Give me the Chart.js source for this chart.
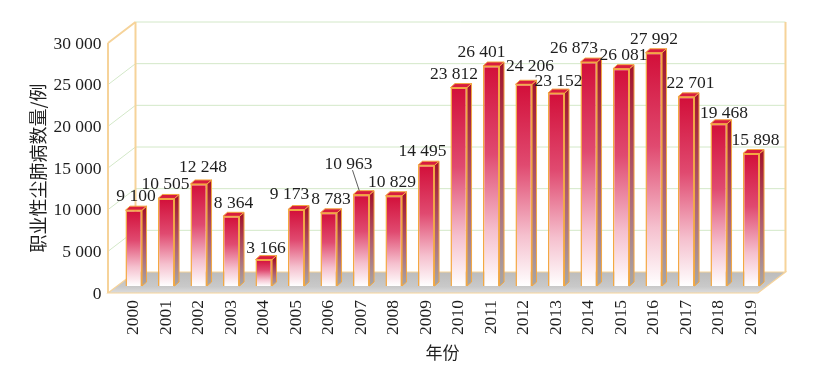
<!DOCTYPE html>
<html>
<head>
<meta charset="utf-8">
<script src="https://cdn.jsdelivr.net/npm/chart.js@4.4.1/dist/chart.umd.min.js"></script>
<style>
  html, body { margin: 0; padding: 0; background: #fff; }
  #wrap { width: 822px; height: 366px; }
</style>
</head>
<body>
<div id="wrap"><canvas id="pneumoChart" width="822" height="366"></canvas></div>
<script>
const YEARS = [
  "2000", "2001", "2002", "2003", "2004", "2005", "2006", "2007", "2008", "2009",
  "2010", "2011", "2012", "2013", "2014", "2015", "2016", "2017", "2018", "2019",
];

const CASES = [
  9100, 10505, 12248, 8364, 3166, 9173, 8783, 10963, 10829, 14495,
  23812, 26401, 24206, 23152, 26873, 26081, 27992, 22701, 19468, 15898,
];

const Y_TICKS = [0, 5000, 10000, 15000, 20000, 25000, 30000];

const Y_TITLE = "职业性尘肺病数量/例";
const X_TITLE = "年份";

// small nudges for value labels that sit off-centre in the original
const LABEL_DX = [0, -3, 2, 0, 0, -9, 0, -15, -4, -6, -7, -12, 4, 0, -17, 0, -2, 2, 3, 2];
const LABEL_DY = [0, 0, -3, 1, 2, -2, 0, -17, 0, 0, 0, 0, -4, 2, 0, 0, 0, 0, 3, 0];

// 3D look: the bars sit a third of the way into the box
const FRONT_DX = -9.5, FRONT_DY = 7;
const BACK_DX = 18, BACK_DY = -14;
const BAR_DX = 4.5, BAR_DY = -4;

const SERIF = "'Liberation Serif', 'DejaVu Serif', serif";
const CJK = "'Noto Sans CJK SC', sans-serif";
const TEXT = "#1e1e1e";
const ORANGE = "#f3a843";
const FRAME = "#f6d39a";
const GRID = "#d3e8c8";

function fmt(v) {
  return String(v).replace(/\B(?=(\d{3})+(?!\d))/g, " ");
}

function frontFill(context) {
  const chart = context.chart;
  const { ctx, chartArea, scales } = chart;
  if (!chartArea || context.type !== "data") return "#d3123a";
  const top = scales.y.getPixelForValue(context.raw);
  const base = scales.y.getPixelForValue(0);
  const g = ctx.createLinearGradient(0, top, 0, base);
  g.addColorStop(0, "#d20f39");
  g.addColorStop(0.4, "#e04a70");
  g.addColorStop(0.75, "#f5c0ce");
  g.addColorStop(1, "#ffffff");
  return g;
}

const box3dPlugin = {
  id: "box3d",
  beforeDatasetsDraw(chart) {
    const { ctx, chartArea: a, scales: { y } } = chart;
    const fl = a.left + FRONT_DX, fr = a.right + FRONT_DX;
    const bl = a.left + BACK_DX, br = a.right + BACK_DX;
    const fy = (v) => y.getPixelForValue(v) + FRONT_DY;
    const by = (v) => y.getPixelForValue(v) + BACK_DY;
    const top = Y_TICKS[Y_TICKS.length - 1];

    ctx.save();

    // floor
    const fg = ctx.createLinearGradient(0, by(0), 0, fy(0));
    fg.addColorStop(0, "#bcbcbc");
    fg.addColorStop(0.7, "#c9c9c9");
    fg.addColorStop(1, "#dddddd");
    ctx.fillStyle = fg;
    ctx.beginPath();
    ctx.moveTo(fl, fy(0));
    ctx.lineTo(fr, fy(0));
    ctx.lineTo(br, by(0));
    ctx.lineTo(bl, by(0));
    ctx.closePath();
    ctx.fill();
    ctx.strokeStyle = FRAME;
    ctx.lineWidth = 1.2;
    ctx.stroke();

    // grid lines on left and back walls
    ctx.strokeStyle = GRID;
    ctx.lineWidth = 1;
    Y_TICKS.forEach((v) => {
      if (v === 0) return;
      ctx.beginPath();
      ctx.moveTo(fl, fy(v));
      ctx.lineTo(bl, by(v));
      ctx.lineTo(br, by(v));
      ctx.stroke();
    });

    // wall frame
    ctx.strokeStyle = FRAME;
    ctx.lineWidth = 2;
    ctx.beginPath();
    ctx.moveTo(bl, by(0));
    ctx.lineTo(bl, by(top));
    ctx.moveTo(br, by(0));
    ctx.lineTo(br, by(top));
    ctx.moveTo(fl, fy(top));
    ctx.lineTo(bl, by(top));
    ctx.stroke();

    // side and top faces of the bars
    const meta = chart.getDatasetMeta(0);
    meta.data.forEach((bar) => {
      const p = bar.getProps(["x", "y", "base", "width"], true);
      const left = p.x - p.width / 2;
      const right = p.x + p.width / 2;

      const sg = ctx.createLinearGradient(0, p.y, 0, p.base);
      sg.addColorStop(0, "#a3152e");
      sg.addColorStop(0.55, "#ad6174");
      sg.addColorStop(1, "#a6a6a6");
      ctx.fillStyle = sg;
      ctx.beginPath();
      ctx.moveTo(right, p.y);
      ctx.lineTo(right + BAR_DX, p.y + BAR_DY);
      ctx.lineTo(right + BAR_DX, p.base + BAR_DY);
      ctx.lineTo(right, p.base);
      ctx.closePath();
      ctx.fill();
      ctx.strokeStyle = ORANGE;
      ctx.lineWidth = 1;
      ctx.stroke();

      ctx.fillStyle = "#d81c3e";
      ctx.beginPath();
      ctx.moveTo(left, p.y);
      ctx.lineTo(right, p.y);
      ctx.lineTo(right + BAR_DX, p.y + BAR_DY);
      ctx.lineTo(left + BAR_DX, p.y + BAR_DY);
      ctx.closePath();
      ctx.fill();
      ctx.stroke();
    });

    ctx.restore();
  },

  afterDatasetsDraw(chart) {
    const { ctx, chartArea: a, scales: { y } } = chart;
    const fl = a.left + FRONT_DX;
    const fy = (v) => y.getPixelForValue(v) + FRONT_DY;
    const top = Y_TICKS[Y_TICKS.length - 1];

    ctx.save();
    // front vertical axis
    ctx.strokeStyle = FRAME;
    ctx.lineWidth = 2;
    ctx.beginPath();
    ctx.moveTo(fl, fy(0));
    ctx.lineTo(fl, fy(top));
    ctx.stroke();

    // value labels
    ctx.font = `17.5px ${SERIF}`;
    ctx.fillStyle = TEXT;
    ctx.textAlign = "center";
    ctx.textBaseline = "alphabetic";
    const meta = chart.getDatasetMeta(0);
    meta.data.forEach((bar, i) => {
      const p = bar.getProps(["x", "y"], true);
      const cx = p.x + BAR_DX / 2 + LABEL_DX[i];
      const by = p.y + BAR_DY - 5 + LABEL_DY[i];
      ctx.fillText(fmt(CASES[i]), cx, by);
      if (LABEL_DY[i] < -10) {
        ctx.strokeStyle = "#333";
        ctx.lineWidth = 0.8;
        ctx.beginPath();
        ctx.moveTo(cx + 4, by + 1.5);
        ctx.lineTo(p.x - 2, p.y + BAR_DY);
        ctx.stroke();
      }
    });

    // y tick labels on the front plane
    ctx.textAlign = "right";
    ctx.textBaseline = "middle";
    Y_TICKS.forEach((v) => {
      ctx.fillText(fmt(v), fl - 6.5, fy(v) + 1);
    });

    // y title
    ctx.translate(38, (fy(0) + fy(top)) / 2);
    ctx.rotate(-Math.PI / 2);
    ctx.font = `18px ${CJK}`;
    ctx.textAlign = "center";
    ctx.textBaseline = "middle";
    ctx.fillText(Y_TITLE, 0, 0);
    ctx.restore();
  },
};

new Chart(document.getElementById("pneumoChart"), {
  type: "bar",
  data: {
    labels: YEARS,
    datasets: [
      {
        data: CASES,
        backgroundColor: frontFill,
        borderColor: ORANGE,
        borderWidth: 1.5,
        barPercentage: 0.51,
        categoryPercentage: 1.0,
      },
    ],
  },
  options: {
    responsive: false,
    animation: false,
    devicePixelRatio: 1,
    layout: { padding: { top: 36, left: 117.5, right: 54.5, bottom: 0 } },
    plugins: {
      legend: { display: false },
      tooltip: { enabled: false },
    },
    scales: {
      x: {
        grid: { display: false, drawTicks: false },
        border: { display: false },
        ticks: {
          autoSkip: false,
          minRotation: 90,
          maxRotation: 90,
          padding: 14,
          color: TEXT,
          font: { family: SERIF, size: 17.5 },
        },
        title: {
          display: true,
          text: X_TITLE,
          color: TEXT,
          font: { family: CJK, size: 17 },
          padding: { top: 0, bottom: 3 },
        },
        afterFit: (scale) => {
          scale.height = 80;
        },
      },
      y: {
        display: false,
        min: 0,
        max: 30000,
      },
    },
  },
  plugins: [box3dPlugin],
});
</script>
</body>
</html>
